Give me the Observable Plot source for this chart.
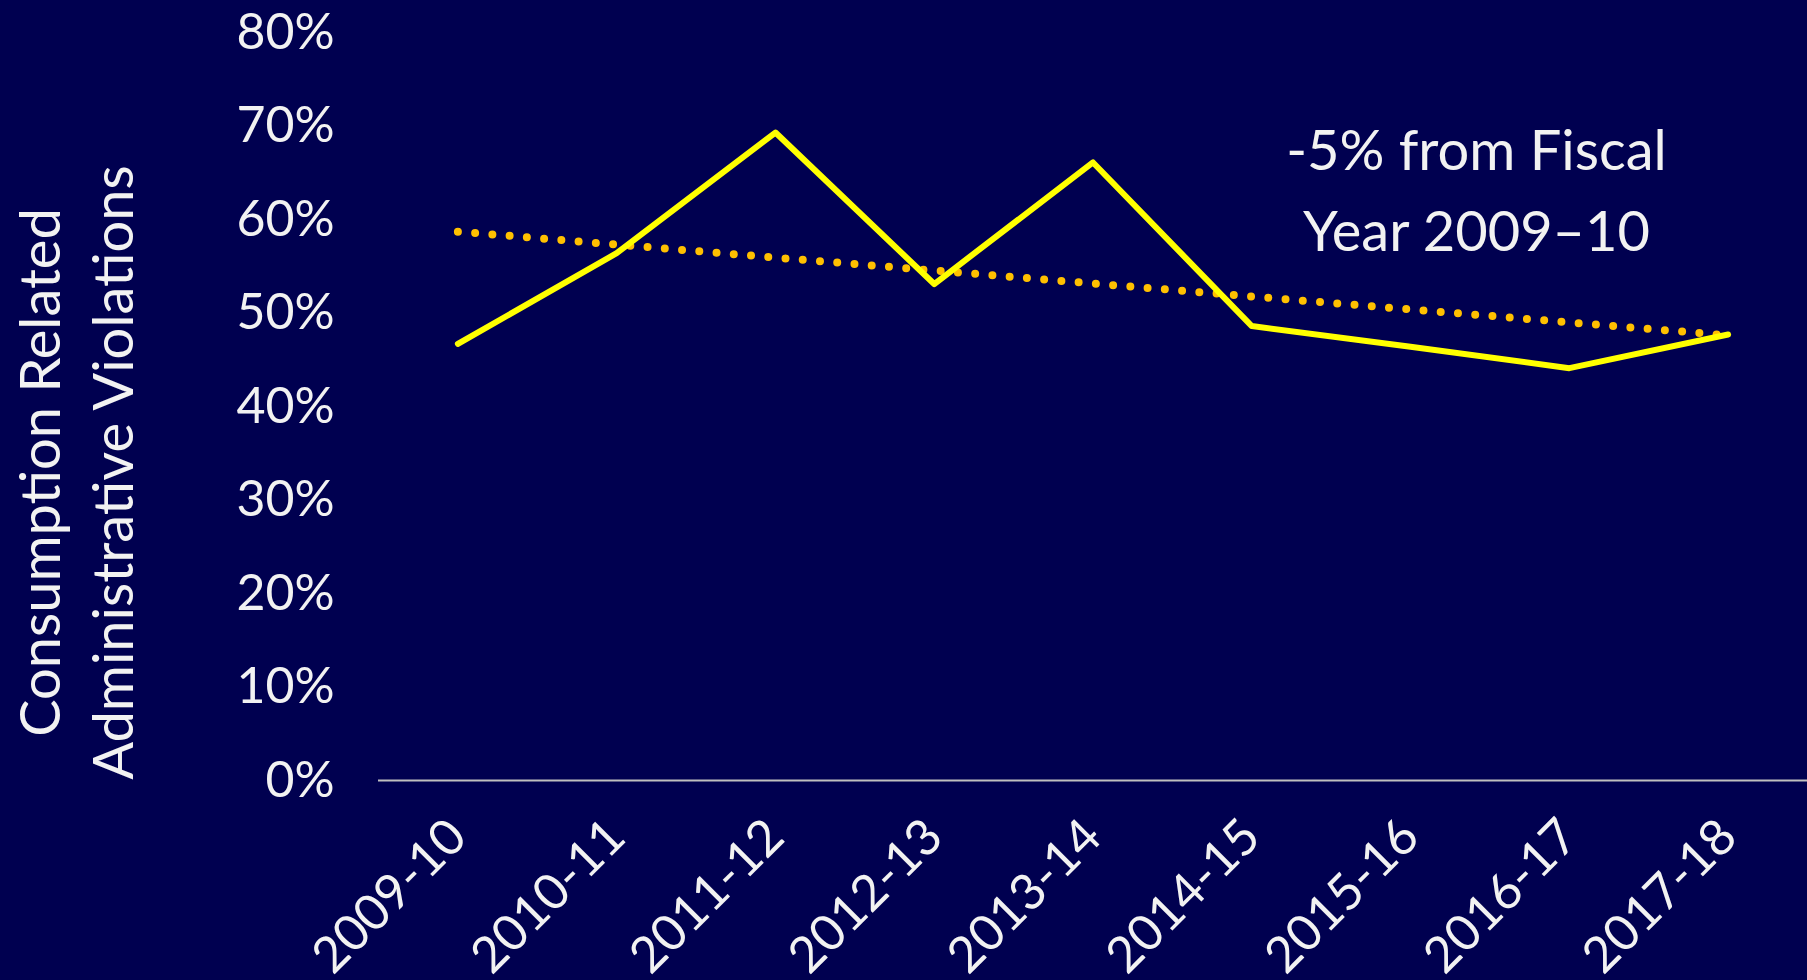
<!DOCTYPE html>
<html><head><meta charset="utf-8">
<script src="https://cdn.jsdelivr.net/npm/d3@7"></script>
<script src="https://cdn.jsdelivr.net/npm/@observablehq/plot@0.6"></script>
<style>html,body{margin:0;padding:0;background:#000050;overflow:hidden}</style>
</head><body><div id="chart"></div>
<script>
const years = ["2009-10","2010-11","2011-12","2012-13","2013-14","2014-15","2015-16","2016-17","2017-18"];
const violationShare = [46.7,56.4,69.3,53.1,66.1,48.6,46.4,44.1,47.7];
const yTicks = [0,10,20,30,40,50,60,70,80];
const yLabel = "Consumption Related\nAdministrative Violations";
const note = "-5% from Fiscal\nYear 2009\u201310";

const data = years.map((year, i) => ({i, year, value: violationShare[i]}));

const chart = Plot.plot({
  width: 1807, height: 980,
  marginLeft: 378, marginRight: 0, marginTop: 32, marginBottom: 200,
  style: {background: "#000050", color: "#F2F2F2", fontFamily: "Lato", overflow: "visible"},
  x: {domain: [-0.5, years.length - 0.5], axis: null},
  y: {domain: [0, 80], axis: null},
  marks: [
    Plot.axisY({ticks: yTicks, tickFormat: d => d + "%", tickSize: 0, tickPadding: 44, fontSize: 50, label: null}),
    Plot.axisX({ticks: d3.range(years.length), tickFormat: i => years[i], tickSize: 0, tickRotate: -45, tickPadding: 48, fontSize: 50, label: null}),
    Plot.ruleY([0], {stroke: "#BFBFBF", strokeWidth: 2}),
    Plot.linearRegressionY(data, {x: "i", y: "value", ci: 0, stroke: "#FFC000", strokeWidth: 8, strokeDasharray: "0 17.3", strokeLinecap: "round"}),
    Plot.line(data, {x: "i", y: "value", stroke: "#FFFF00", strokeWidth: 6}),
    Plot.text([yLabel], {text: d => d, frameAnchor: "left", textAnchor: "middle", lineAnchor: "middle", dx: -305, dy: 66, rotate: -90, fontSize: 56, lineHeight: 1.3, fill: "#F2F2F2"}),
    Plot.text([note], {text: d => d, frameAnchor: "top-right", textAnchor: "middle", lineAnchor: "middle", dx: -331, dy: 152, fontSize: 56, lineHeight: 1.45, fill: "#F2F2F2"})
  ]
});
document.getElementById("chart").append(chart);
</script>
</body></html>
